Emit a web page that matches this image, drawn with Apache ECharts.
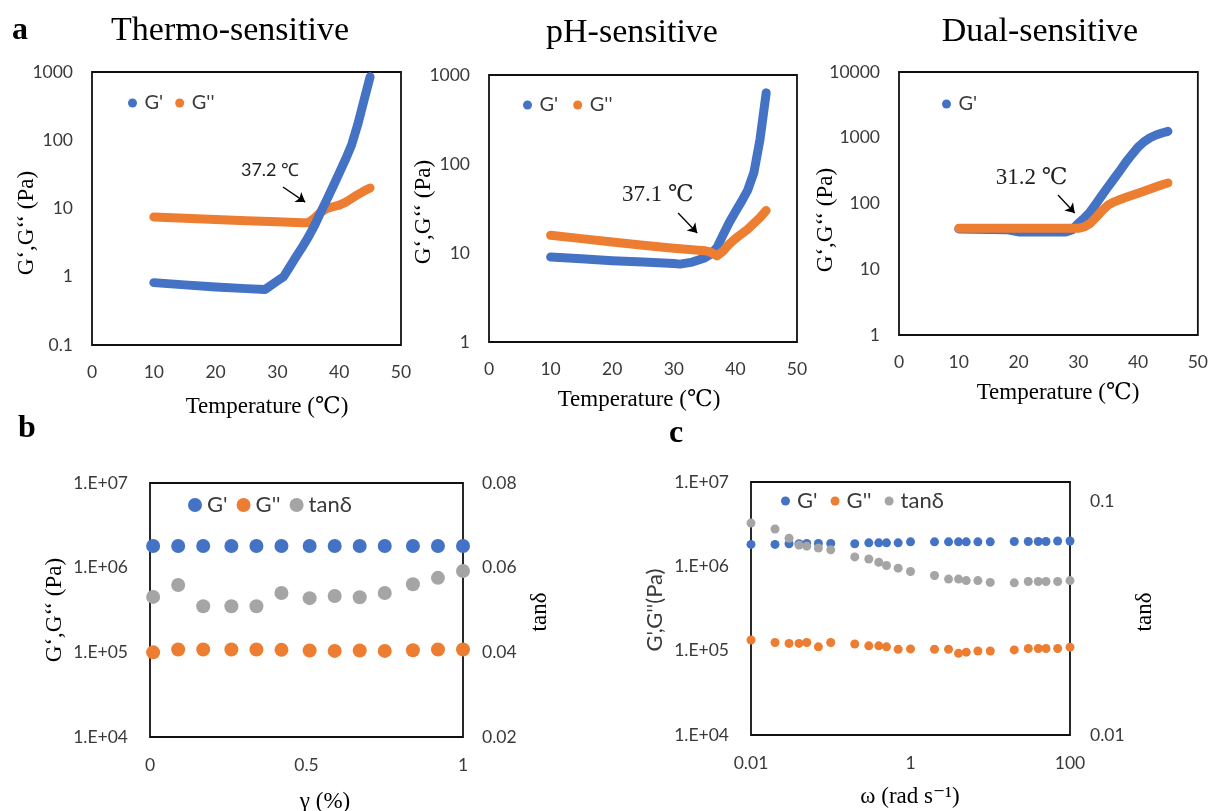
<!DOCTYPE html>
<html><head><meta charset="utf-8">
<script src="https://cdn.jsdelivr.net/npm/echarts@6/dist/echarts.min.js"></script>
<style>html,body{margin:0;padding:0;background:#fff}#chart{width:1211px;height:811px}</style>
</head><body><div id="chart"></div>
<script>
// ================= DATA =================
// Panel a – temperature sweeps
const thermoGpT  = [10,15,20,25,28,30,31,32,33,34,35,36,37,38,39,40,41,42,43,44,45];
const thermoGp   = [0.82,0.76,0.71,0.67,0.65,0.87,1.0,1.4,1.95,2.7,3.8,5.6,8.8,13.5,21,33,52,85,170,380,850];
const thermoGppT = [10,15,20,25,30,34,35,36,37,38,39,40,41,42,43,44,45];
const thermoGpp  = [7.5,7.2,6.9,6.6,6.4,6.2,6.2,7.2,8.8,10,10.6,11.2,12.3,14,16,18,20];

const phGpT  = [10,15,20,25,30,31,33,35,36,37,38,39,40,41,42,43,44,45];
const phGp   = [9.0,8.6,8.2,7.9,7.6,7.5,7.9,8.8,9.7,11.5,16,22,29,38,51,80,190,630];
const phGppT = [10,15,20,25,30,35,36,37,38,39,40,42,44,45];
const phGpp  = [15.8,14.5,13.3,12.2,11.3,10.6,10.2,9.3,10.5,12.6,14.5,18.5,25,30];

const dualGpT  = [10,18,20,28,29,30,31,32,33,34,35,36,37,38,39,40,41,42,43,44,45];
const dualGp   = [41,40,37,37,40,50,60,75,100,135,180,240,320,430,560,720,870,1000,1100,1180,1250];
const dualGppT = [10,15,20,25,30,31,32,33,34,35,36,37,38,40,42,44,45];
const dualGpp  = [42,42,42,42,42,44,50,62,78,95,106,115,124,143,166,193,205];

// Panel b – strain sweep
const strain      = [0.01,0.09,0.17,0.26,0.34,0.42,0.51,0.59,0.67,0.75,0.84,0.92,1.0];
const strainGp    = [1.8e6,1.8e6,1.8e6,1.8e6,1.8e6,1.8e6,1.8e6,1.8e6,1.8e6,1.8e6,1.8e6,1.8e6,1.8e6];
const strainGpp   = [1.0e5,1.08e5,1.08e5,1.08e5,1.08e5,1.07e5,1.05e5,1.04e5,1.05e5,1.04e5,1.06e5,1.08e5,1.08e5];
const strainTan   = [0.0531,0.0559,0.0509,0.0509,0.0509,0.054,0.0528,0.0533,0.053,0.054,0.0561,0.0576,0.0592];

// Panel c – frequency sweep
const omega     = [0.01,0.02,0.03,0.04,0.05,0.07,0.1,0.2,0.3,0.4,0.5,0.7,1,2,3,4,5,7,10,20,30,40,50,70,100];
const omegaGp   = [1.82e6,1.82e6,1.85e6,1.85e6,1.87e6,1.87e6,1.87e6,1.85e6,1.9e6,1.9e6,1.9e6,1.9e6,1.95e6,1.95e6,1.95e6,1.95e6,1.95e6,1.95e6,1.95e6,1.97e6,1.97e6,1.97e6,1.97e6,2.0e6,2.0e6];
const omegaGpp  = [1.34e5,1.25e5,1.22e5,1.22e5,1.25e5,1.11e5,1.25e5,1.2e5,1.14e5,1.14e5,1.11e5,1.04e5,1.05e5,1.04e5,1.04e5,9.3e4,9.6e4,9.9e4,9.9e4,1.02e5,1.06e5,1.06e5,1.06e5,1.06e5,1.1e5];
const omegaTan  = [0.081,0.0764,0.0697,0.0652,0.0645,0.0633,0.0622,0.058,0.0568,0.055,0.0533,0.0519,0.0502,0.0483,0.0466,0.0466,0.0459,0.0459,0.0451,0.0449,0.0455,0.0455,0.0455,0.0455,0.0459];

// Tick values
const tempTicks = [0,10,20,30,40,50];
const gapLabel = "G'", gppLabel = "G''", tanLabel = "tanδ";

// ================= STYLE =================
const BLUE = '#4472C4', ORANGE = '#ED7D31', GRAY = '#A5A5A5';
const SERIF = '"Liberation Serif","DejaVu Serif",serif';
const SANS = 'Lato,"Noto Sans",sans-serif';
const LBL = {color:'#3a3a3a', fontFamily:SANS, fontSize:17.5};

const zip = (a,b) => a.map((v,i) => [v, b[i]]);

const grids = [
  {left:92, top:72, width:309, height:273},
  {left:489, top:75, width:308, height:267},
  {left:899, top:72, width:299, height:263},
  {left:150, top:483, width:313, height:254},
  {left:751, top:482, width:319, height:253}
].map(g => Object.assign({show:true, borderColor:'#111', borderWidth:1.8, backgroundColor:'transparent', containLabel:false}, g));

const hide = {axisLine:{show:false}, axisTick:{show:false}, splitLine:{show:false}};
const numFmt = v => v < 1 ? String(+v.toPrecision(2)) : String(Math.round(v));
const sciFmt = v => '1.E+' + String(Math.round(Math.log10(v))).padStart(2,'0');

const tempX = gi => Object.assign({type:'value', gridIndex:gi, min:tempTicks[0], max:tempTicks[tempTicks.length-1], interval:tempTicks[1]-tempTicks[0],
  axisLabel:Object.assign({margin:18}, LBL)}, hide);

const xAxes = [
  tempX(0), tempX(1), tempX(2),
  Object.assign({type:'value', gridIndex:3, min:0, max:1, interval:0.5,
    axisLabel:Object.assign({margin:19, formatter:v=>String(v)}, LBL)}, hide),
  Object.assign({type:'log', gridIndex:4, min:0.01, max:100, logBase:10,
    axisLabel:Object.assign({margin:19, formatter:v=>{const e=Math.round(Math.log10(v)); return (e%2===0)? (v<1? v.toFixed(2): String(Math.round(v))) : '';}}, LBL)}, hide)
];

const yAxes = [
  Object.assign({type:'log', gridIndex:0, min:0.1, max:1000, axisLabel:Object.assign({margin:19, formatter:numFmt}, LBL)}, hide),
  Object.assign({type:'log', gridIndex:1, min:1, max:1000, axisLabel:Object.assign({margin:19, formatter:numFmt}, LBL)}, hide),
  Object.assign({type:'log', gridIndex:2, min:1, max:10000, axisLabel:Object.assign({margin:19, formatter:numFmt}, LBL)}, hide),
  Object.assign({type:'log', gridIndex:3, min:1e4, max:1e7, axisLabel:Object.assign({margin:22, formatter:sciFmt}, LBL)}, hide),
  Object.assign({type:'value', gridIndex:3, position:'right', min:0.02, max:0.08, interval:0.02, axisLabel:Object.assign({margin:19, formatter:v=>v.toFixed(2)}, LBL)}, hide),
  Object.assign({type:'log', gridIndex:4, min:1e4, max:1e7, axisLabel:Object.assign({margin:22, formatter:sciFmt}, LBL)}, hide),
  Object.assign({type:'log', gridIndex:4, position:'right', min:0.01, max:0.1215, axisLabel:Object.assign({margin:20, formatter:v=>{const l=Math.log10(v); return Math.abs(l-Math.round(l))<1e-6 ? String(+v.toPrecision(1)) : '';}}, LBL)}, hide)
];

const lineSeries = (name, color, xi, yi, xs, ys, z, extra) => Object.assign({
  type:'line', name, xAxisIndex:xi, yAxisIndex:yi, data:zip(xs, ys), showSymbol:false, symbol:'circle',
  lineStyle:{width:9, color, cap:'round', join:'round'}, itemStyle:{color}, clip:false, z, animation:false
}, extra || {});

const note = (text, at, from, to, font, size) => ({
  markLine:{silent:true, symbol:['none','arrow'], symbolSize:9, animation:false,
    lineStyle:{color:'#000', width:1.3, type:'solid'}, label:{show:false},
    data:[[{coord:from},{coord:to}]]},
  markPoint:{silent:true, symbol:'circle', symbolSize:1, animation:false, itemStyle:{color:'rgba(0,0,0,0)'},
    label:{show:true, position:'inside', formatter:text, color:'#222', fontFamily:font, fontSize:size},
    data:[{coord:at}]}
});

const scatter = (name, color, xi, yi, xs, ys, size) => ({
  type:'scatter', name, xAxisIndex:xi, yAxisIndex:yi, data:zip(xs, ys), symbol:'circle', symbolSize:size,
  itemStyle:{color, opacity:1}, clip:false, animation:false
});

const series = [
  lineSeries(gppLabel, ORANGE, 0, 0, thermoGppT, thermoGpp, 2, note('37.2 ℃', [28.8,36.6], [30.9,20.7], [34.5,12.4], SANS, 18)),
  lineSeries(gapLabel, BLUE, 0, 0, thermoGpT, thermoGp, 3),
  lineSeries(gapLabel, BLUE, 1, 1, phGpT, phGp, 2),
  lineSeries(gppLabel, ORANGE, 1, 1, phGppT, phGpp, 3, note('37.1 ℃', [27.4,44.9], [30.7,28.1], [33.8,16.8], SERIF, 23)),
  lineSeries(gapLabel, BLUE, 2, 2, dualGpT, dualGp, 2),
  lineSeries(gppLabel, ORANGE, 2, 2, dualGppT, dualGpp, 3, note('31.2 ℃', [22.2,244], [26.6,134.6], [29.4,71.7], SERIF, 23)),
  scatter(gapLabel, BLUE, 3, 3, strain, strainGp, 14),
  scatter(gppLabel, ORANGE, 3, 3, strain, strainGpp, 14),
  scatter(tanLabel, GRAY, 3, 4, strain, strainTan, 14),
  scatter(gapLabel, BLUE, 4, 5, omega, omegaGp, 9),
  scatter(gppLabel, ORANGE, 4, 5, omega, omegaGpp, 9),
  scatter(tanLabel, GRAY, 4, 6, omega, omegaTan, 9)
];

const legendBase = {orient:'horizontal', icon:'circle', padding:0, selectedMode:false,
  textStyle:{color:'#3a3a3a', fontFamily:SANS, fontSize:20}};
const big = {textStyle:{color:'#3a3a3a', fontFamily:SANS, fontSize:22}};
const legends = [
  Object.assign({}, legendBase, {left:128, top:93, itemWidth:14, itemHeight:9, itemGap:12, data:[gapLabel, gppLabel]}),
  Object.assign({}, legendBase, {left:523, top:95, itemWidth:14, itemHeight:9, itemGap:15, data:[gapLabel, gppLabel]}),
  Object.assign({}, legendBase, {left:942, top:94, itemWidth:14, itemHeight:9, itemGap:9, data:[gapLabel]}),
  Object.assign({}, legendBase, big, {left:188, top:494, itemWidth:14, itemHeight:14, itemGap:9, data:[gapLabel, gppLabel, tanLabel]}),
  Object.assign({}, legendBase, big, {left:781, top:490, itemWidth:13, itemHeight:9, itemGap:13, data:[gapLabel, gppLabel, tanLabel]})
];

const txt = (text, x, y, size, family, opts) => Object.assign({
  type:'text', x, y, silent:true,
  style:Object.assign({text, fill:'#000', fontSize:size, fontFamily:family,
    align:'center', verticalAlign:'middle', textAlign:'center', textVerticalAlign:'middle'}, (opts&&opts.style)||{})
}, opts && opts.rotation ? {rotation:opts.rotation} : {});
const R = Math.PI/2;

const graphics = [
  txt('a', 12, 31, 32, SERIF, {style:{fontWeight:'bold', align:'left', textAlign:'left'}}),
  txt('b', 18, 429, 32, SERIF, {style:{fontWeight:'bold', align:'left', textAlign:'left'}}),
  txt('c', 669, 434, 32, SERIF, {style:{fontWeight:'bold', align:'left', textAlign:'left'}}),
  txt('Thermo-sensitive', 230, 31, 34, SERIF),
  txt('pH-sensitive', 632, 33, 34, SERIF),
  txt('Dual-sensitive', 1040, 32, 34, SERIF),
  txt('Temperature (℃)', 267, 407, 23, SERIF),
  txt('Temperature (℃)', 639, 400, 23, SERIF),
  txt('Temperature (℃)', 1058, 393, 23, SERIF),
  txt('G‘,G‘‘ (Pa)', 27, 223, 23, SERIF, {rotation:R}),
  txt('G‘,G‘‘ (Pa)', 424, 212, 23, SERIF, {rotation:R}),
  txt('G‘,G‘‘ (Pa)', 826, 220, 23, SERIF, {rotation:R}),
  txt('γ (%)', 325, 802, 23, SERIF),
  txt('G‘,G‘‘ (Pa)', 55, 610, 23, SERIF, {rotation:R}),
  txt('tanδ', 540, 612, 23, SERIF, {rotation:R}),
  txt('ω (rad s⁻¹)', 910, 797, 23, SERIF),
  txt("G',G''(Pa)", 655, 610, 22, SANS, {rotation:R, style:{fill:'#3a3a3a'}}),
  txt('tanδ', 1145, 612, 23, SERIF, {rotation:R})
];

const chart = echarts.init(document.getElementById('chart'), null, {renderer:'canvas'});
chart.setOption({
  animation:false,
  backgroundColor:'#fff',
  grid:grids, xAxis:xAxes, yAxis:yAxes, series, legend:legends,
  graphic:{elements:graphics}
});
</script></body></html>
